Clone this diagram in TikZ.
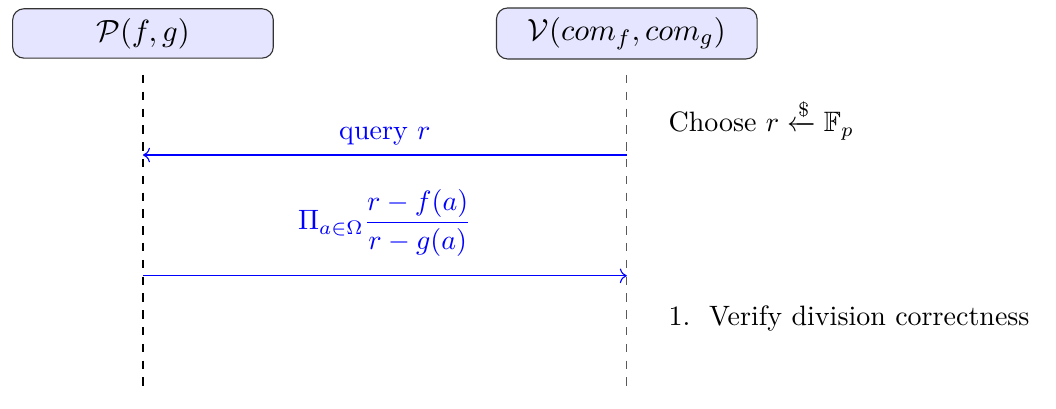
\documentclass[tikz,border=0pt]{standalone}
\usepackage{amsmath,amssymb}
\usepackage{tikz}
\usetikzlibrary{arrows.meta, positioning, calc}

\begin{document}
\begin{tikzpicture}[
    actor/.style={rectangle, rounded corners, draw=black!80, fill=blue!10, minimum width=3.27cm, minimum height=0.59cm, text centered, font=\fontsize{11.3}{13.5}\selectfont},
    lifeline/.style={dashed},
    msg/.style={blue, ->},
    note/.style={anchor=base west}
]
    \useasboundingbox (-1.794,0) rectangle (11.455,-5.12);

    \node[actor] (prover) at (0,-0.42) {$\mathcal{P}(f,g)$};
    \node[actor] (verifier) at (6.07,-0.42) {$\mathcal{V}(com_f,com_g)$};

    \coordinate (ptop) at (0,-0.94);
    \coordinate (pbot) at (0,-4.87);
    \coordinate (vtop) at (6.07,-0.94);
    \coordinate (vbot) at (6.07,-4.87);
    \draw[lifeline] (ptop) -- (pbot);
    \draw[lifeline, black!65] (vtop) -- (vbot);

    \coordinate (q1) at (6.07,-1.945);
    \coordinate (q2) at (0,-1.945);
    \coordinate (a1) at (0,-3.46);
    \coordinate (a2) at (6.07,-3.46);

    \draw[msg] (q1) -- node[above, text=blue] {query $r$} (q2);
    \draw[msg] (a1) -- node[above=3.5pt, text=blue] {$\Pi_{a\in\Omega}\dfrac{r-f(a)}{r-g(a)}$} (a2);

    \node[note] (choose) at (6.47,-1.656) {Choose $r \xleftarrow{\$} \mathbb{F}_p$};
    \node[note] (verify) at (6.47,-4.08) {1.~~Verify division correctness};
\end{tikzpicture}
\end{document}
